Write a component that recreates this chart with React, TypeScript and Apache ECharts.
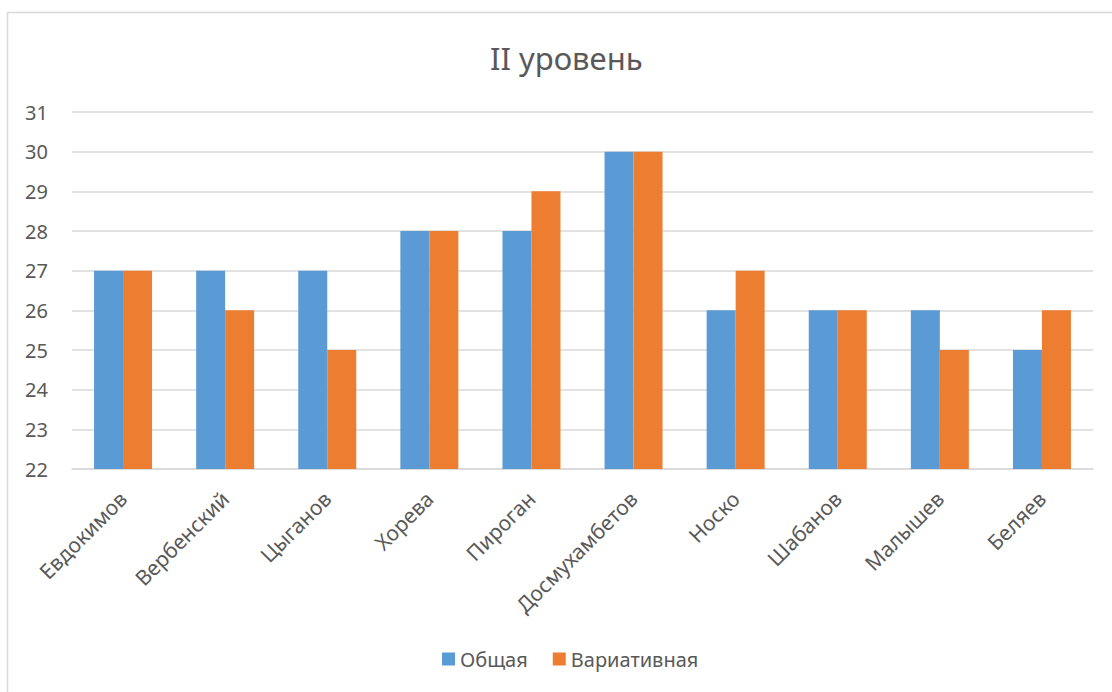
import React, { useEffect, useRef } from "react";
import * as echarts from "echarts";

const categories = ["Евдокимов", "Вербенский", "Цыганов", "Хорева", "Пироган", "Досмухамбетов", "Носко", "Шабанов", "Малышев", "Беляев"];
const seriesNames = ["Общая", "Вариативная"];
const general = [27, 27, 27, 28, 28, 30, 26, 26, 26, 25];
const variative = [27, 26, 25, 28, 29, 30, 27, 26, 25, 26];
const titleText = "II уровень";

const FONT = "'Noto Sans', 'Open Sans', sans-serif";
const TEXT = "#595959";

export default function App() {
  const ref = useRef<HTMLDivElement>(null);
  useEffect(() => {
    if (!ref.current) return;
    const chart = echarts.init(ref.current, undefined, { renderer: "svg" });
    chart.setOption({
      animation: false,
      backgroundColor: "#ffffff",
      textStyle: { fontFamily: FONT },
      title: {
        text: titleText,
        left: 485,
        top: 37,
        textStyle: { fontFamily: FONT, fontSize: 31, fontWeight: "normal", color: TEXT },
      },
      graphic: [
        {
          type: "rect",
          shape: { x: 7.5, y: 12.5, width: 1130, height: 700 },
          style: { fill: "none", stroke: "#d9d9d9", lineWidth: 1.5 },
          silent: true,
        },
      ],
      legend: {
        bottom: 18,
        left: 437,
        itemWidth: 13,
        itemHeight: 13,
        itemGap: 25,
        icon: "rect",
        textStyle: { fontFamily: FONT, fontSize: 20, color: TEXT },
        data: seriesNames,
      },
      grid: { left: 72, right: 19, top: 112, bottom: 223, containLabel: false },
      xAxis: {
        type: "category",
        data: categories,
        axisLine: { lineStyle: { color: "#d9d9d9", width: 1.5 } },
        axisTick: { show: false },
        axisLabel: {
          rotate: 45,
          interval: 0,
          margin: 26,
          fontFamily: FONT,
          fontSize: 21,
          color: TEXT,
        },
      },
      yAxis: {
        type: "value",
        min: 22,
        max: 31,
        interval: 1,
        axisLine: { show: false },
        axisTick: { show: false },
        splitLine: { lineStyle: { color: "#d9d9d9", width: 1.5 } },
        axisLabel: { margin: 24, fontFamily: FONT, fontSize: 20, color: TEXT },
      },
      series: [
        {
          name: seriesNames[0],
          type: "bar",
          data: general,
          barWidth: 29,
          barGap: "0%",
          itemStyle: { color: "#5B9BD5" },
        },
        {
          name: seriesNames[1],
          type: "bar",
          data: variative,
          barWidth: 29,
          barGap: "0%",
          itemStyle: { color: "#ED7D31" },
        },
      ],
    });
    return () => chart.dispose();
  }, []);
  return (
    <div
      ref={ref}
      style={{ position: "fixed", left: 0, top: 0, width: 1112, height: 692, background: "#fff" }}
    />
  );
}
